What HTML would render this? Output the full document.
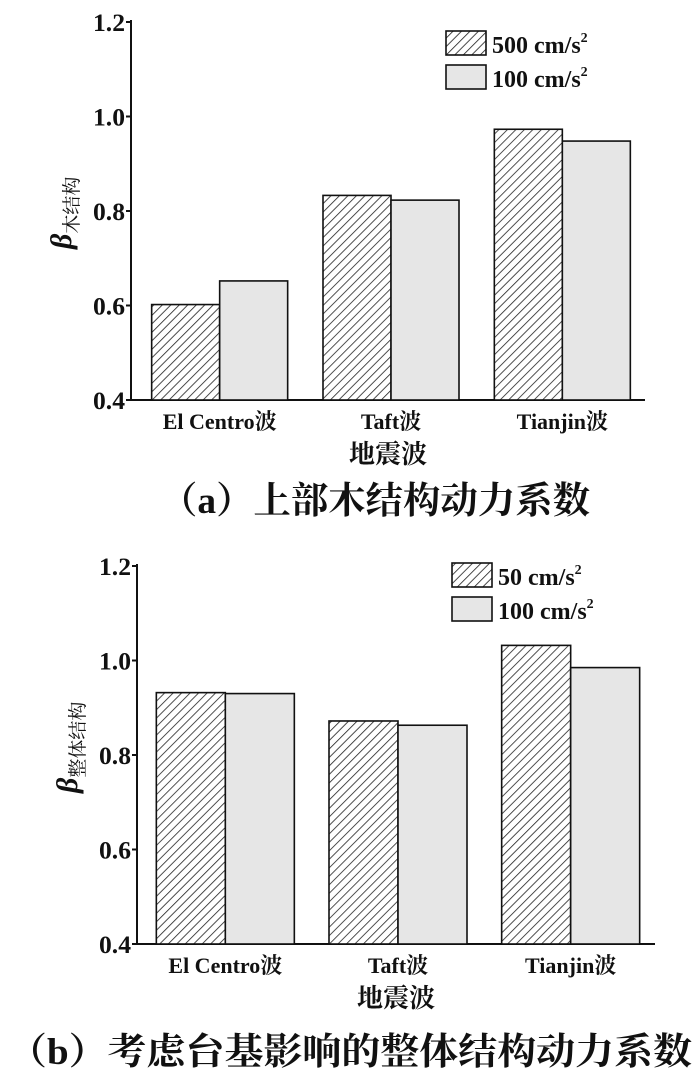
<!DOCTYPE html>
<html><head><meta charset="utf-8"><style>
body{margin:0;background:#fff;width:700px;height:1085px;overflow:hidden}
svg text{font-family:"Liberation Serif","Noto Serif CJK SC",serif;fill:#111}
</style></head><body>
<svg id="s" width="700" height="1085">
<defs>
<pattern id="hatch" patternUnits="userSpaceOnUse" width="6" height="6" patternTransform="rotate(45)">
<rect width="6" height="6" fill="#fff"/><line x1="0" y1="0" x2="0" y2="6" stroke="#222" stroke-width="1.6"/>
</pattern>
</defs>
</svg>
<script>
const categories=["El Centro波","Taft波","Tianjin波"];
const ticks=[0.4,0.6,0.8,1.0,1.2];
const aHigh=[0.602,0.833,0.973];
const aLow=[0.652,0.823,0.948];
const bHigh=[0.932,0.872,1.032];
const bLow=[0.930,0.863,0.985];
const aLegend=["500 cm/s","100 cm/s"];
const bLegend=["50 cm/s","100 cm/s"];
const NS="http://www.w3.org/2000/svg";
const svg=document.getElementById('s');
function el(t,a,p){const e=document.createElementNS(NS,t);for(const k in a)e.setAttribute(k,a[k]);(p||svg).appendChild(e);return e;}
function chart(cfg){
  const g=el('g',{});
  
  
  const y=v=>cfg.y0-(v-0.4)/0.8*(cfg.y0-cfg.y1);
  const ax=el('line',{x1:cfg.x0,y1:cfg.y1-2,x2:cfg.x0,y2:cfg.y0,stroke:'#111','stroke-width':2},g);
  
  
  const bx=el('line',{x1:cfg.x0,y1:cfg.y0,x2:cfg.xEnd,y2:cfg.y0,stroke:'#111','stroke-width':2},g);
  
  
  ticks.forEach(t=>{
    el('line',{x1:cfg.x0-5,y1:y(t),x2:cfg.x0,y2:y(t),stroke:'#111','stroke-width':2},g);
    const tx=el('text',{x:cfg.x0-6,y:y(t)+9,'text-anchor':'end','font-size':25,'font-weight':'bold','textLength':32,'lengthAdjust':'spacingAndGlyphs'},g);
    tx.textContent=t.toFixed(1);
    
    
  });
  const plotW=cfg.xEnd-cfg.x0, gw=plotW/3, bw=cfg.bw;
  categories.forEach((c,i)=>{
    const cx=cfg.x0+gw*(i+0.5)+cfg.shift;
    const r1=el('rect',{x:cx-bw,y:y(cfg.hi[i]),width:bw,height:cfg.y0-y(cfg.hi[i]),fill:'url(#hatch)',stroke:'#111','stroke-width':1.6},g);
    
    
    const r2=el('rect',{x:cx,y:y(cfg.lo[i]),width:bw,height:cfg.y0-y(cfg.lo[i]),fill:'#e6e6e6',stroke:'#111','stroke-width':1.6},g);
    
    
    const t=el('text',{x:cx,y:cfg.y0+29,'text-anchor':'middle','font-size':22,'font-weight':'bold'},g);
    t.textContent=c;
    
    
  });
  const xt=el('text',{x:cfg.x0+plotW/2,y:cfg.y0+63,'text-anchor':'middle','font-size':26,'font-weight':'bold'},g);
  xt.textContent='地震波';
  
  
  const yt=el('text',{transform:`translate(${cfg.x0-60},${(cfg.y0+cfg.y1)/2+38}) rotate(-90)`,'font-size':30,'font-style':'italic','font-weight':'bold'},g);
  yt.innerHTML='β<tspan font-size="19" font-style="normal" font-weight="normal" dy="7">'+cfg.sub+'</tspan>';
  
  
  cfg.legend.forEach((l,i)=>{
    const ly=cfg.ly+i*34;
    const r=el('rect',{x:cfg.lx,y:ly,width:40,height:24,fill:i?'#e6e6e6':'url(#hatch)',stroke:'#111','stroke-width':1.6},g);
    
    
    const t=el('text',{x:cfg.lx+46,y:ly+22,'font-size':24,'font-weight':'bold'},g);
    t.innerHTML=l+'<tspan font-size="14" dy="-11">2</tspan>';
    
    
  });
  const cap=el('text',{x:cfg.capX,y:cfg.capY,'font-size':37,'font-weight':'bold','textLength':cfg.capW,'lengthAdjust':'spacingAndGlyphs'},g);
  cap.textContent=cfg.caption;
  
  
}
chart({name:'chart-a',x0:131,xEnd:645,y0:400,y1:22,bw:68,shift:3,hi:aHigh,lo:aLow,legend:aLegend,lx:446,ly:31,sub:'木结构',caption:'（a）上部木结构动力系数',capX:160,capW:430,capY:513});
chart({name:'chart-b',x0:137,xEnd:655,y0:944,y1:566,bw:69,shift:2,hi:bHigh,lo:bLow,legend:bLegend,lx:452,ly:563,sub:'整体结构',caption:'（b）考虑台基影响的整体结构动力系数',capX:8,capW:684,capY:1064});
</script>
</body></html>
